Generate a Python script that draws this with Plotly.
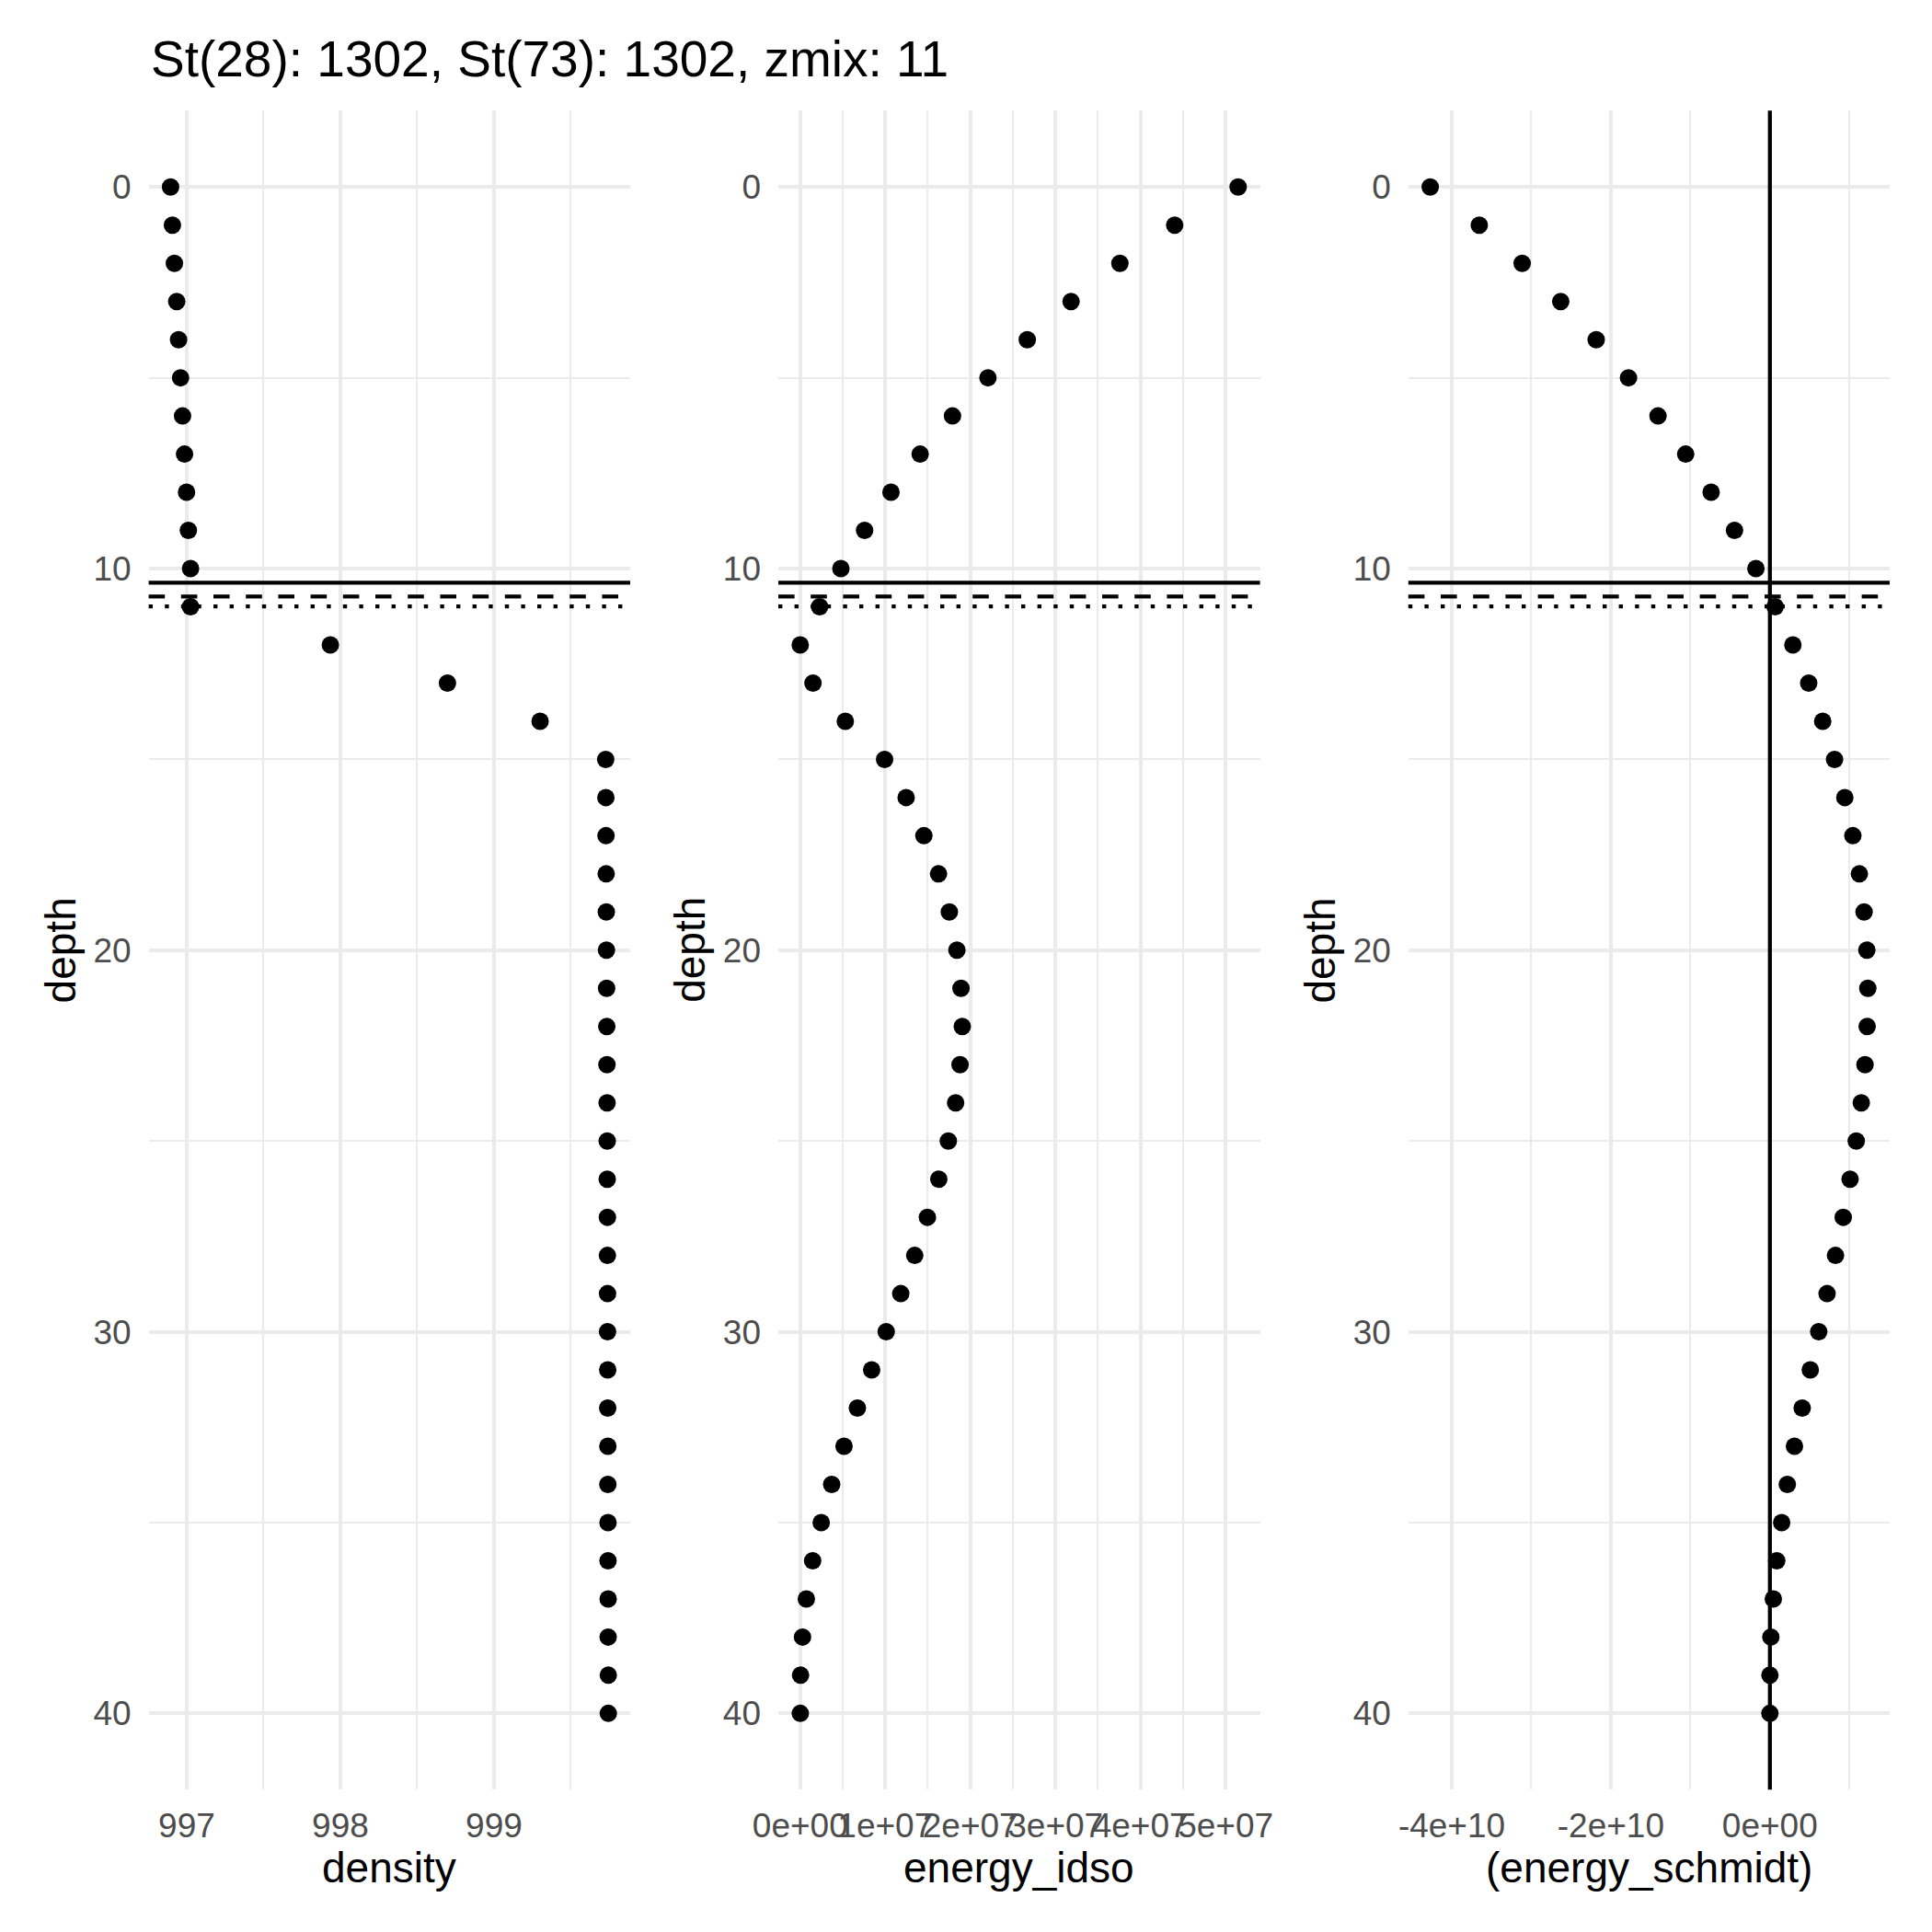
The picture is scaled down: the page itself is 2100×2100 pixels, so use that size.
import plotly.graph_objects as go

# ---------------- data ----------------
depth = list(range(0, 41))

density = [996.895, 996.907, 996.920, 996.935, 996.947, 996.960, 996.973, 996.986,
           996.999, 997.011, 997.025, 997.025, 997.935, 998.697, 999.300, 999.727,
           999.728, 999.729, 999.730, 999.731, 999.732, 999.733, 999.734, 999.735,
           999.736, 999.737, 999.737, 999.738, 999.738, 999.739, 999.739, 999.740,
           999.740, 999.741, 999.741, 999.742, 999.742, 999.743, 999.743, 999.744,
           999.744]

energy_idso = [5.148e7, 4.402e7, 3.758e7, 3.184e7, 2.669e7, 2.207e7, 1.790e7, 1.410e7,
               1.067e7, 0.757e7, 0.478e7, 0.228e7, 0.000e7, 0.150e7, 0.530e7, 0.992e7,
               1.245e7, 1.454e7, 1.626e7, 1.753e7, 1.842e7, 1.890e7, 1.905e7, 1.879e7,
               1.827e7, 1.741e7, 1.629e7, 1.495e7, 1.346e7, 1.182e7, 1.011e7, 0.840e7,
               0.672e7, 0.515e7, 0.370e7, 0.247e7, 0.146e7, 0.072e7, 0.027e7, 0.004e7,
               0.001e7]

energy_schmidt = [-4.271e10, -3.654e10, -3.115e10, -2.630e10, -2.184e10, -1.778e10,
                  -1.407e10, -1.059e10, -0.739e10, -0.445e10, -0.176e10, 0.066e10,
                  0.289e10, 0.488e10, 0.664e10, 0.813e10, 0.942e10, 1.043e10, 1.125e10,
                  1.184e10, 1.219e10, 1.231e10, 1.223e10, 1.196e10, 1.149e10, 1.086e10,
                  1.008e10, 0.922e10, 0.825e10, 0.719e10, 0.614e10, 0.508e10, 0.406e10,
                  0.309e10, 0.219e10, 0.148e10, 0.086e10, 0.043e10, 0.012e10, 0.000e10,
                  0.000e10]

# horizontal reference depths (solid, dashed, dotted)
ref_depths = [10.37, 10.73, 10.99]
schmidt_zero = 0.0

title_text = "St(28): 1302, St(73): 1302, zmix: 11"
x_titles = ["density", "energy_idso", "(energy_schmidt)"]
y_title = "depth"

dens_ticks = [997, 998, 999]
dens_ticktext = ["997", "998", "999"]
dens_minor = [997.5, 998.5, 999.5]
idso_ticks = [0, 1e7, 2e7, 3e7, 4e7, 5e7]
idso_ticktext = ["0e+00", "1e+07", "2e+07", "3e+07", "4e+07", "5e+07"]
idso_minor = [0.5e7, 1.5e7, 2.5e7, 3.5e7, 4.5e7]
schm_ticks = [-4e10, -2e10, 0]
schm_ticktext = ["-4e+10", "-2e+10", "0e+00"]
schm_minor = [-3e10, -1e10, 1e10]
depth_ticks = [0, 10, 20, 30, 40]
depth_minor = [5, 15, 25, 35]

# ---------------- style ----------------
W = H = 2100
FONT = "Liberation Sans, Arial, Helvetica, sans-serif"
GRID = "#EBEBEB"
TICKCOL = "#4D4D4D"
MAJ_W = 4.3
MIN_W = 2.2
LINE_W = 4.3
PT = 19

px_dom = [(161.6, 685.0), (846.0, 1369.6), (1530.8, 2054.0)]
py_top, py_bot = 120.3, 1945.3
ydom = [1 - py_bot / H, 1 - py_top / H]


def expand(vals, f=0.05):
    lo, hi = min(vals), max(vals)
    w = hi - lo
    return [lo - f * w, hi + f * w]


fig = go.Figure()
series = [density, energy_idso, energy_schmidt]
for i, s in enumerate(series):
    sfx = "" if i == 0 else str(i + 1)
    fig.add_trace(go.Scatter(
        x=s, y=depth, mode="markers",
        marker=dict(size=PT, color="black", line=dict(width=0)),
        xaxis="x" + sfx, yaxis="y" + sfx, showlegend=False, cliponaxis=False))

tick_specs = [(dens_ticks, dens_ticktext, dens_minor),
              (idso_ticks, idso_ticktext, idso_minor),
              (schm_ticks, schm_ticktext, schm_minor)]

yr = expand(depth)
layout = dict(template="none", width=W, height=H,
              margin=dict(l=0, r=0, t=0, b=0, pad=0, autoexpand=False),
              plot_bgcolor="white", paper_bgcolor="white", showlegend=False,
              font=dict(family=FONT, color="black"))

for i, (s, (tv, tt, mv)) in enumerate(zip(series, tick_specs)):
    sfx = "" if i == 0 else str(i + 1)
    d0, d1 = px_dom[i]
    layout["xaxis" + sfx] = dict(
        domain=[d0 / W, d1 / W], range=expand(s), anchor="y" + sfx,
        tickmode="array", tickvals=tv, ticktext=tt, tickangle=0,
        showgrid=True, gridcolor=GRID, gridwidth=MAJ_W, zeroline=False,
        showline=False, ticks="", ticklabelstandoff=14, automargin=False,
        tickfont=dict(size=37, color=TICKCOL, family=FONT),
        minor=dict(tickmode="array", tickvals=mv, showgrid=True,
                   gridcolor=GRID, gridwidth=MIN_W, ticks=""),
    )
    layout["yaxis" + sfx] = dict(
        domain=ydom, range=[yr[1], yr[0]], anchor="x" + sfx,
        tickmode="array", tickvals=depth_ticks,
        ticktext=[str(v) for v in depth_ticks],
        showgrid=True, gridcolor=GRID, gridwidth=MAJ_W, zeroline=False,
        showline=False, ticks="", ticklabelstandoff=18, automargin=False,
        tickfont=dict(size=37, color=TICKCOL, family=FONT),
        minor=dict(tickmode="array", tickvals=depth_minor, showgrid=True,
                   gridcolor=GRID, gridwidth=MIN_W, ticks=""),
    )

fig.update_layout(**layout)

# reference lines
dashes = ["solid", "17.6px,17.6px", "4.4px,13.2px"]
for i in range(3):
    sfx = "" if i == 0 else str(i + 1)
    for dval, dsh in zip(ref_depths, dashes):
        fig.add_shape(type="line", xref="x" + sfx + " domain", yref="y" + sfx,
                      x0=0, x1=1, y0=dval, y1=dval,
                      line=dict(color="black", width=LINE_W, dash=dsh))
fig.add_shape(type="line", xref="x3", yref="y3 domain", x0=schmidt_zero, x1=schmidt_zero,
              y0=0, y1=1, line=dict(color="black", width=LINE_W))

# titles
ann = []
ann.append(dict(text=title_text, x=px_dom[0][0] / W, y=1 - 64 / H, xref="paper", yref="paper",
                xanchor="left", yanchor="middle", showarrow=False,
                font=dict(size=55, color="black", family=FONT)))
for i in range(3):
    d0, d1 = px_dom[i]
    ann.append(dict(text=x_titles[i], x=(d0 + d1) / 2 / W, y=1 - 2030 / H,
                    xref="paper", yref="paper", xanchor="center", yanchor="middle",
                    showarrow=False, font=dict(size=46, color="black", family=FONT)))
    ann.append(dict(text=y_title, x=(d0 - 96) / W, y=1 - (py_top + py_bot) / 2 / H,
                    xref="paper", yref="paper", xanchor="center", yanchor="middle",
                    textangle=-90, showarrow=False,
                    font=dict(size=46, color="black", family=FONT)))
fig.update_layout(annotations=ann)

fig.write_html("out.html")
